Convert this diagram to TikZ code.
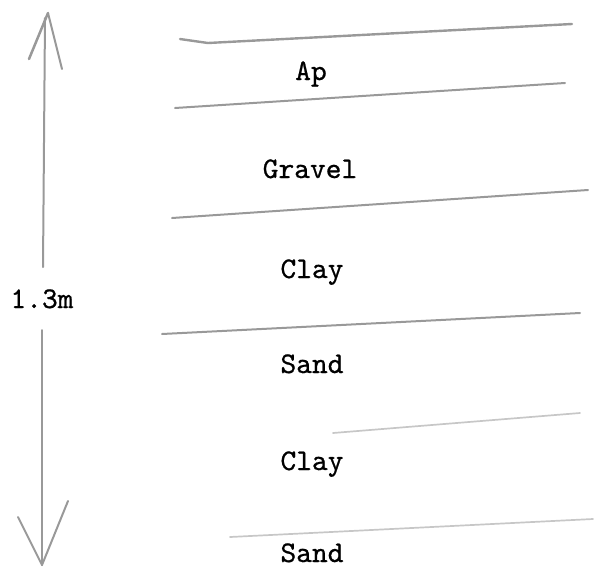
\documentclass[tikz,border=0pt]{standalone}
\usepackage{fontspec}
\newfontfamily\typew{lmmono10-regular.otf}[FakeBold=0.7]
\begin{document}
\begin{tikzpicture}[x=1pt,y=-1pt,
  pencil/.style={draw=black!40, line width=2pt, line cap=round, line join=round},
  faint/.style={draw=black!22, line width=1.7pt, line cap=round, line join=round},
  layer/.style={font=\fontsize{30}{34}\selectfont\typew, text=black, inner sep=0pt, anchor=base}]
\useasboundingbox (0,0) rectangle (599,568);
% layer names
\node[layer] (ap)     at (311,80)  {Ap};
\node[layer] (gravel) at (310,178) {Gravel};
\node[layer] (clay1)  at (312,278) {Clay};
\node[layer] (sand1)  at (312,373) {Sand};
\node[layer] (clay2)  at (312,470) {Clay};
\node[layer] (sand2)  at (312,562) {Sand};
% boundaries
\draw[pencil, line width=2.4pt] (180,39) -- (208,43) -- (572,24);
\draw[pencil] (175,108) -- (565,83);
\draw[pencil] (172,218) -- (588,190);
\draw[pencil] (162,334) -- (580,313);
\draw[faint] (333,433) -- (580,413);
\draw[faint] (230,537) -- (593,519);
% depth arrow
\node[layer] (depth) at (42,308) {1.3m};
\coordinate (top) at (48,13);
\coordinate (bot) at (42,565);
\coordinate (shafttop) at (43,267);
\coordinate (shaftbot) at (42,330);
\draw[pencil] (shafttop) -- (45,18);
\draw[pencil, line width=2.5pt] (29,59) -- (top);
\draw[pencil] (top) -- (62,69);
\draw[pencil] (shaftbot) -- (bot);
\draw[pencil] (18,517) -- (bot) -- (68,501);
\end{tikzpicture}
\end{document}
